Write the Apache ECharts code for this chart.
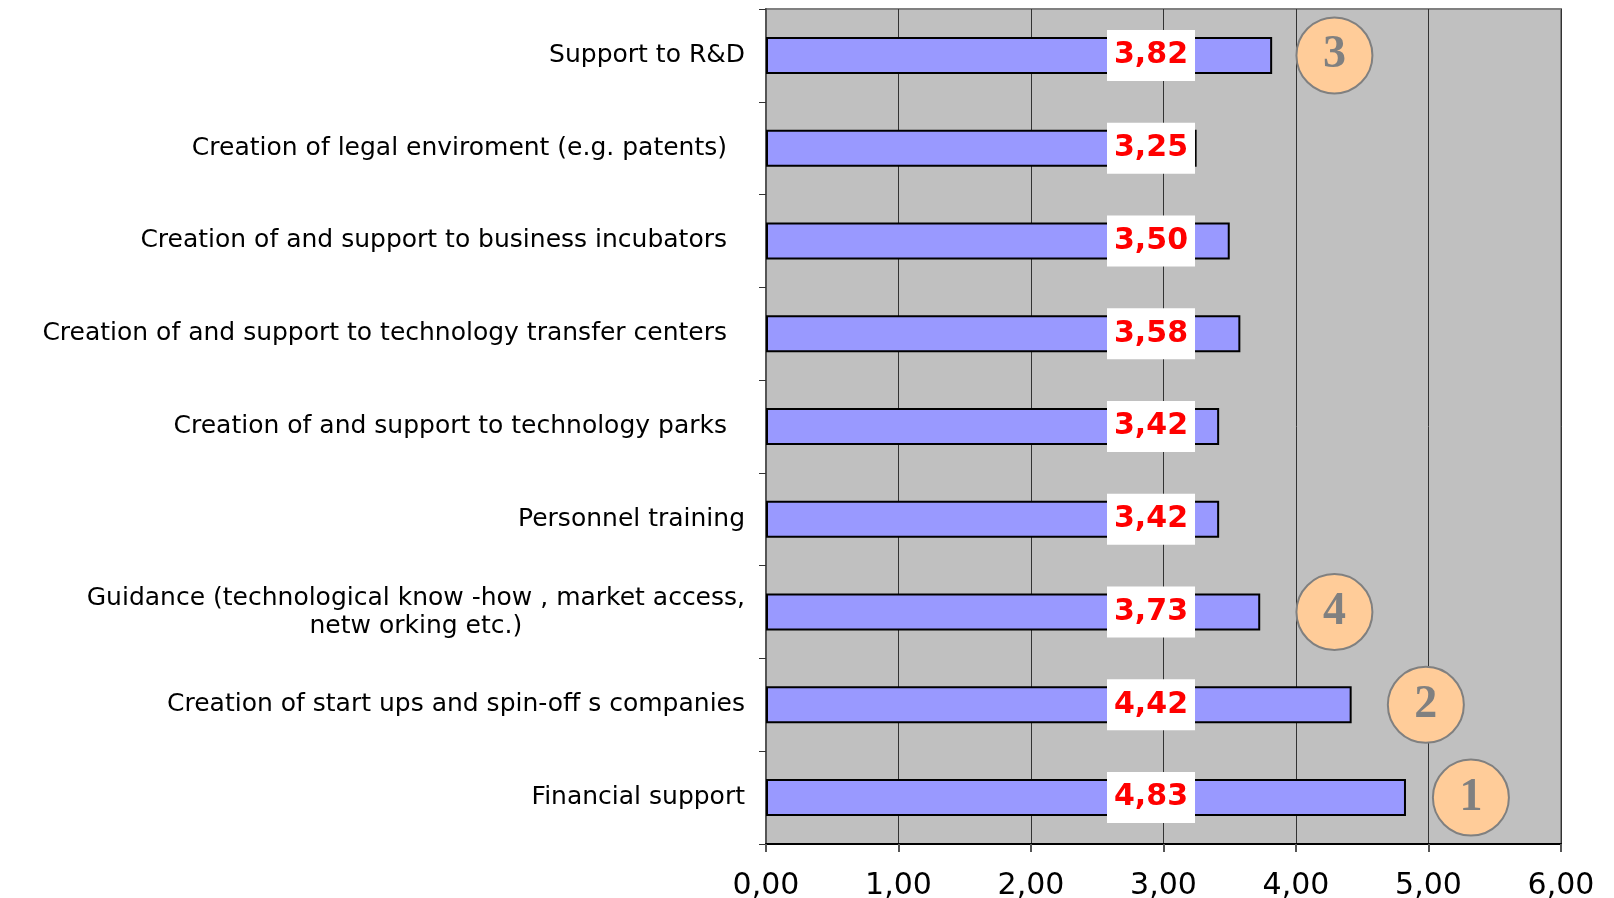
<!DOCTYPE html>
<html>
<head>
<meta charset="utf-8">
<script src="https://cdn.jsdelivr.net/npm/echarts@6/dist/echarts.min.js"></script>
<style>
  html, body { margin: 0; padding: 0; background: #fff; }
  #chart { width: 1614px; height: 898px; }
</style>
</head>
<body>
<div id="chart"></div>
<script>
// categories, top to bottom
const categories = [
  'Support to R&D',
  'Creation of legal enviroment (e.g. patents)',
  'Creation of and support to business incubators',
  'Creation of and support to technology transfer centers',
  'Creation of and support to technology parks',
  'Personnel training',
  'Guidance (technological know -how , market access,\nnetw orking etc.)',
  'Creation of start ups and spin-off s companies',
  'Financial support'
];
const scores = [3.82, 3.25, 3.50, 3.58, 3.42, 3.42, 3.73, 4.42, 4.83];

// rank badges: [x position, category index, rank]
const rankX = [4.29, 4.29, 4.98, 5.32];
const rankCat = [0, 6, 7, 8];
const rankText = ['3', '4', '2', '1'];

// labels that had a trailing space in the original
const padded = [1, 2, 3, 4];

const fmt = v => v.toFixed(2).replace('.', ',');

const chart = echarts.init(document.getElementById('chart'), null, { renderer: 'canvas' });

const option = {
  animation: false,
  grid: {
    left: 766,
    right: 53,
    top: 9,
    bottom: 54,
    outerBoundsMode: 'none',
    show: true,
    backgroundColor: '#c0c0c0',
    borderColor: '#808080',
    borderWidth: 2
  },
  xAxis: {
    type: 'value',
    min: 0,
    max: 6,
    interval: 1,
    axisLine: { show: true, lineStyle: { color: '#000', width: 2 } },
    axisTick: { show: true, length: 8, lineStyle: { color: '#555', width: 2 } },
    axisLabel: {
      formatter: v => fmt(v),
      fontFamily: 'DejaVu Sans',
      fontSize: 30,
      color: '#000',
      margin: 27
    },
    splitLine: { show: true, lineStyle: { color: '#333', width: 1 } }
  },
  yAxis: {
    type: 'category',
    inverse: true,
    data: categories,
    axisLine: { show: true, lineStyle: { color: '#555', width: 2 } },
    axisTick: { show: true, length: 7, lineStyle: { color: '#333', width: 1 } },
    axisLabel: {
      margin: 21,
      fontFamily: 'DejaVu Sans',
      fontSize: 25,
      color: '#000',
      formatter: (v, i) => {
        if (v.indexOf('\n') >= 0) {
          return v.split('\n').map(s => '{c|' + s + '}').join('\n');
        }
        return padded.indexOf(i) >= 0 ? '{p|' + v + '}' : v;
      },
      rich: {
        c: { align: 'center', fontFamily: 'DejaVu Sans', fontSize: 25, lineHeight: 28, color: '#000' },
        p: { padding: [0, 18, 0, 0], fontFamily: 'DejaVu Sans', fontSize: 25, color: '#000' }
      }
    }
  },
  series: [
    {
      type: 'bar',
      data: scores,
      barWidth: 37,
      itemStyle: { color: '#9999ff', borderColor: '#000', borderWidth: 2 },
      label: {
        show: true,
        position: [341, '50%'],
        align: 'left',
        verticalAlign: 'middle',
        formatter: p => fmt(p.value),
        fontFamily: 'DejaVu Sans',
        fontWeight: 'bold',
        fontSize: 30,
        lineHeight: 32,
        color: '#ff0000',
        backgroundColor: '#ffffff',
        padding: [10, 7, 9, 7]
      },
      z: 2
    },
    {
      type: 'scatter',
      data: rankX.map((x, i) => [x, rankCat[i]]),
      symbol: 'circle',
      symbolSize: 76,
      itemStyle: { color: '#ffcc99', borderColor: '#808080', borderWidth: 2, opacity: 1 },
      label: {
        show: true,
        position: 'inside',
        formatter: p => rankText[p.dataIndex],
        fontFamily: 'Liberation Serif',
        fontWeight: 'bold',
        fontSize: 46,
        color: '#808080'
      },
      z: 3
    }
  ]
};

chart.setOption(option);
</script>
</body>
</html>
